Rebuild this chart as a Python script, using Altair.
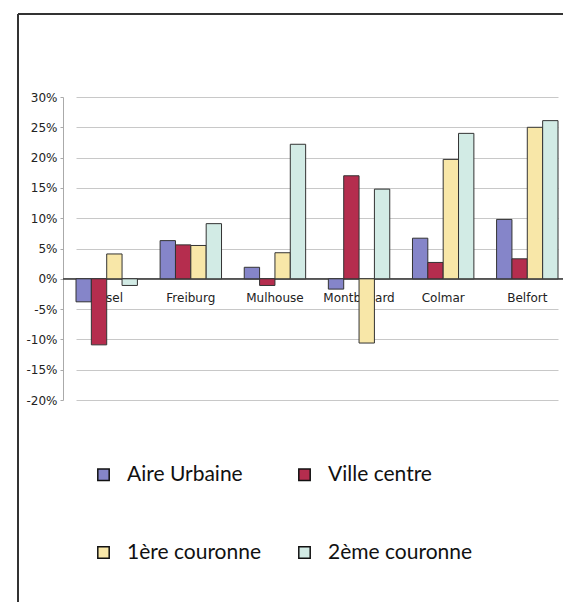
import altair as alt
import pandas as pd

cities = ["Basel", "Freiburg", "Mulhouse", "Montbéliard", "Colmar", "Belfort"]
series = ["Aire Urbaine", "Ville centre", "1ère couronne", "2ème couronne"]
aire_urbaine = [-3.8, 6.3, 1.9, -1.7, 6.7, 9.8]
ville_centre = [-10.9, 5.6, -1.1, 17.0, 2.7, 3.3]
premiere_couronne = [4.1, 5.5, 4.3, -10.6, 19.7, 25.0]
deuxieme_couronne = [-1.1, 9.1, 22.2, 14.8, 24.0, 26.1]
y_ticks = [-20, -15, -10, -5, 0, 5, 10, 15, 20, 25, 30]
colors = {"Aire Urbaine": "#8585c9", "Ville centre": "#b52d4e",
          "1ère couronne": "#f8e7a8", "2ème couronne": "#d2ebe5"}
legend_order = ["Aire Urbaine", "1ère couronne", "Ville centre", "2ème couronne"]

rows = []
for s, vals in zip(series, [aire_urbaine, ville_centre, premiere_couronne, deuxieme_couronne]):
    for c, v in zip(cities, vals):
        rows.append({"city": c, "series": s, "value": v})
df = pd.DataFrame(rows)
cdf = pd.DataFrame({"city": cities})

xscale = alt.Scale(domain=cities, range=[13, 495], paddingInner=0.27, paddingOuter=0)
yscale = alt.Scale(domain=[-20, 30], nice=False, zero=False)
yaxis = alt.Axis(
    values=y_ticks,
    labelExpr="datum.value + '%'",
    title=None,
    grid=True,
    gridColor="#c8c8c8",
    domainColor="#aaa",
    tickSize=3,
    tickColor="#aaa",
    labelFont="DejaVu Sans",
    labelFontSize=12,
    labelColor="#222",
    labelPadding=3,
    labelOverlap=False,
)

labels = alt.Chart(cdf).mark_text(
    font="DejaVu Sans", fontSize=12, color="#222", dy=19, baseline="middle"
).encode(
    x=alt.X("city:N", scale=xscale, axis=None),
    y=alt.datum(0, scale=yscale, axis=yaxis),
    text="city:N",
)

zero = alt.Chart(cdf).mark_rule(color="#555", strokeWidth=1).encode(
    y=alt.datum(0, scale=yscale, axis=yaxis)
)

bars = alt.Chart(df).mark_bar(stroke="#333", strokeWidth=1).encode(
    x=alt.X("city:N", scale=xscale, axis=None),
    xOffset=alt.XOffset("series:N", sort=series),
    y=alt.Y("value:Q", scale=yscale, axis=yaxis),
    color=alt.Color(
        "series:N",
        scale=alt.Scale(domain=legend_order, range=[colors[s] for s in legend_order]),
        legend=alt.Legend(
            title=None,
            orient="none",
            legendX=30,
            legendY=367,
            columns=2,
            columnPadding=32,
            rowPadding=56,
            symbolType="square",
            symbolSize=130,
            symbolStrokeColor="#111",
            symbolStrokeWidth=1.5,
            symbolOpacity=1,
            labelFont="Lato",
            labelFontSize=21,
            labelColor="#111",
            labelOffset=13,
        ),
    ),
)

frame_top = alt.Chart(cdf).mark_rule(stroke="#333", strokeWidth=2).encode(
    x=alt.value(-45), x2=alt.value(520), y=alt.value(-83)
)
frame_left = alt.Chart(cdf).mark_rule(stroke="#333", strokeWidth=2).encode(
    x=alt.value(-45), y=alt.value(-83), y2=alt.value(520)
)

chart = alt.layer(frame_top, frame_left, labels, zero, bars).properties(
    width=500,
    height=303,
    autosize=alt.AutoSizeParams(type="none"),
    padding={"left": 55, "top": 89, "right": 0, "bottom": 202},
    background="white",
).configure_view(stroke=None)

chart.save("out.html", embed_options={"renderer": "svg", "actions": False})
